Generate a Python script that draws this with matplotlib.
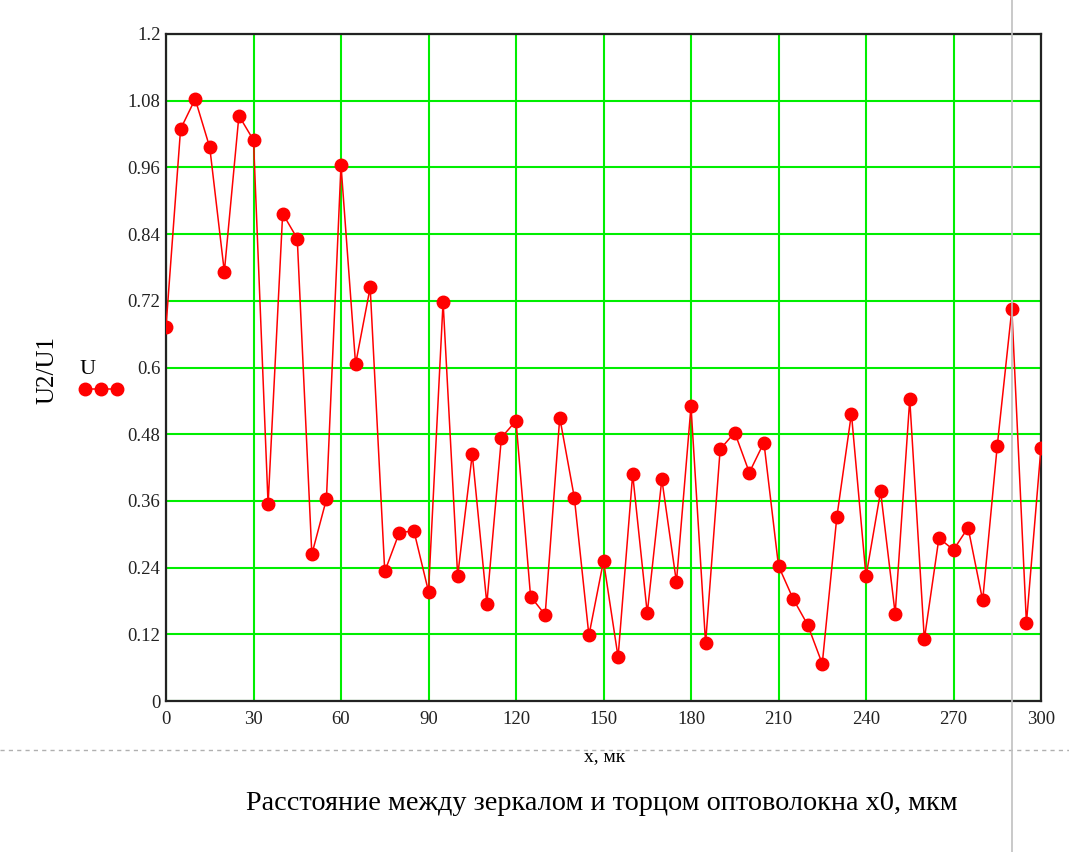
import matplotlib
matplotlib.use("Agg")
import matplotlib.pyplot as plt
from matplotlib.lines import Line2D
import numpy as np

plt.rcParams['font.family'] = ['Liberation Serif', 'DejaVu Serif']

x_values = list(range(0, 301, 5))
u_values = [0.673, 1.029, 1.083, 0.996, 0.772, 1.053, 1.009, 0.354, 0.877, 0.832,
            0.264, 0.363, 0.964, 0.606, 0.744, 0.233, 0.303, 0.306, 0.197, 0.718,
            0.225, 0.444, 0.175, 0.474, 0.504, 0.188, 0.155, 0.510, 0.366, 0.118,
            0.252, 0.079, 0.408, 0.158, 0.399, 0.214, 0.530, 0.104, 0.453, 0.483,
            0.411, 0.465, 0.243, 0.184, 0.137, 0.067, 0.331, 0.517, 0.224, 0.377,
            0.157, 0.543, 0.111, 0.293, 0.272, 0.312, 0.181, 0.459, 0.705, 0.140,
            0.456]
x_ticks = list(range(0, 301, 30))
y_ticks = [0, 0.12, 0.24, 0.36, 0.48, 0.6, 0.72, 0.84, 0.96, 1.08, 1.2]
y_tick_labels = ["0", "0.12", "0.24", "0.36", "0.48", "0.6", "0.72", "0.84", "0.96", "1.08", "1.2"]

W, H = 1069, 852
fig = plt.figure(figsize=(W / 100, H / 100), dpi=100)
fig.patch.set_facecolor("white")

left, right, top, bottom = 166 / W, 1041 / W, 1 - 34 / H, 1 - 701 / H
ax = fig.add_axes([left, bottom, right - left, top - bottom])

ax.plot(x_values, u_values, color="#ff0000", lw=1.1, marker="o", markersize=9,
        markerfacecolor="#ff0000", markeredgecolor="#ff0000", zorder=3)

ax.set_xlim(0, 300)
ax.set_ylim(0, 1.2)
ax.set_xticks(x_ticks)
ax.set_xticklabels([str(t) for t in x_ticks])
ax.set_yticks(y_ticks)
ax.set_yticklabels(y_tick_labels)
ax.tick_params(length=0, labelsize=13.5, colors="#222222")
ax.tick_params(axis="x", pad=7)
ax.tick_params(axis="y", pad=4)
ax.grid(True, color="#00ee00", lw=1.5, zorder=1)
ax.set_axisbelow(True)
for s in ax.spines.values():
    s.set_color("#222222")
    s.set_linewidth(1.6)

# y label and legend-like mark
fig.text(47 / W, 1 - 370 / H, "U2/U1", rotation=90, ha="center", va="center", fontsize=18)
fig.text(88 / W, 1 - 370 / H, "U", ha="center", va="center", fontsize=16)
fig.add_artist(Line2D([85 / W, 101 / W, 117 / W], [1 - 389 / H] * 3, transform=fig.transFigure,
                      color="#ff0000", lw=1.1, marker="o", markersize=9))

# x label
fig.text(605 / W, 1 - 757 / H, "x, мк", ha="center", va="center", fontsize=14)
fig.text(602 / W, 1 - 803 / H, "Расстояние между зеркалом и торцом оптоволокна x0, мкм",
         ha="center", va="center", fontsize=20.3)

# decorative guide lines
fig.add_artist(Line2D([0, 1], [1 - 750 / H, 1 - 750 / H], transform=fig.transFigure,
                      color="#b0b0b0", lw=1.0, ls=(0, (3, 3))))
fig.add_artist(Line2D([1012 / W, 1012 / W], [0, 1], transform=fig.transFigure,
                      color="#c0c0c0", lw=1.2))

fig.savefig("out.png", dpi=100, facecolor="white")
